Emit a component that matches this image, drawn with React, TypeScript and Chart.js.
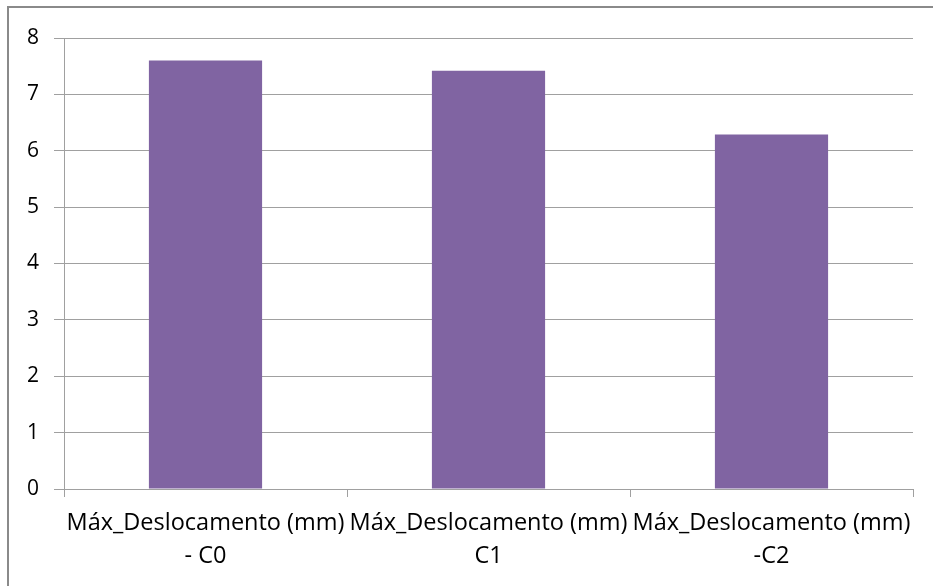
import React, { useEffect, useRef } from "react";
import { Chart, registerables } from "chart.js";

Chart.register(...registerables);

const categories: string[][] = [
  ["Máx_Deslocamento (mm)", "- C0"],
  ["Máx_Deslocamento (mm)", "C1"],
  ["Máx_Deslocamento (mm)", "-C2"],
];
const values: number[] = [7.6, 7.42, 6.29];
const yTicks: number[] = [0, 1, 2, 3, 4, 5, 6, 7, 8];

const FONT = "'Open Sans', Lato, sans-serif";
const GRID = "#a0a0a0";

export default function App() {
  const ref = useRef<HTMLCanvasElement | null>(null);

  useEffect(() => {
    document.documentElement.style.overflow = "hidden";
    const canvas = ref.current;
    if (!canvas) return;
    const chart = new Chart(canvas, {
      type: "bar",
      data: {
        labels: categories,
        datasets: [
          {
            data: values,
            backgroundColor: "#8064A2",
            borderWidth: 0,
            barPercentage: 0.4,
            categoryPercentage: 1,
          },
        ],
      },
      options: {
        animation: false,
        responsive: false,
        maintainAspectRatio: false,
        layout: { padding: { left: 0, right: 20, top: 38, bottom: 0 } },
        plugins: {
          legend: { display: false },
          tooltip: { enabled: false },
        },
        scales: {
          x: {
            offset: true,
            grid: {
              offset: true,
              drawOnChartArea: false,
              drawTicks: true,
              tickLength: 8,
              color: GRID,
            },
            border: { color: GRID, width: 1 },
            ticks: {
              color: "#000",
              font: { family: FONT, size: 23.5, lineHeight: 1.4 },
              padding: 10,
              maxRotation: 0,
              minRotation: 0,
              autoSkip: false,
            },
            afterFit: (scale: any) => {
              scale.height = 97;
            },
          },
          y: {
            min: 0,
            max: 8,
            afterBuildTicks: (scale: any) => {
              scale.ticks = yTicks.map((v) => ({ value: v }));
            },
            grid: {
              color: GRID,
              tickLength: 10,
            },
            border: { color: GRID, width: 1 },
            ticks: {
              color: "#000",
              font: { family: FONT, size: 21 },
              padding: 15,
            },
            afterFit: (scale: any) => {
              scale.width = 64;
            },
          },
        },
      },
    });
    return () => chart.destroy();
  }, []);

  return (
    <div style={{ position: "fixed", left: 0, top: 0, width: 933, height: 586, background: "#fff" }}>
      <canvas ref={ref} width={933} height={586} style={{ position: "absolute", left: 0, top: 0 }} />
      <div
        style={{
          position: "absolute",
          left: 7,
          top: 6,
          width: 940,
          height: 600,
          borderTop: "2px solid #8a8a8a",
          borderLeft: "2px solid #8a8a8a",
          pointerEvents: "none",
        }}
      />
    </div>
  );
}
